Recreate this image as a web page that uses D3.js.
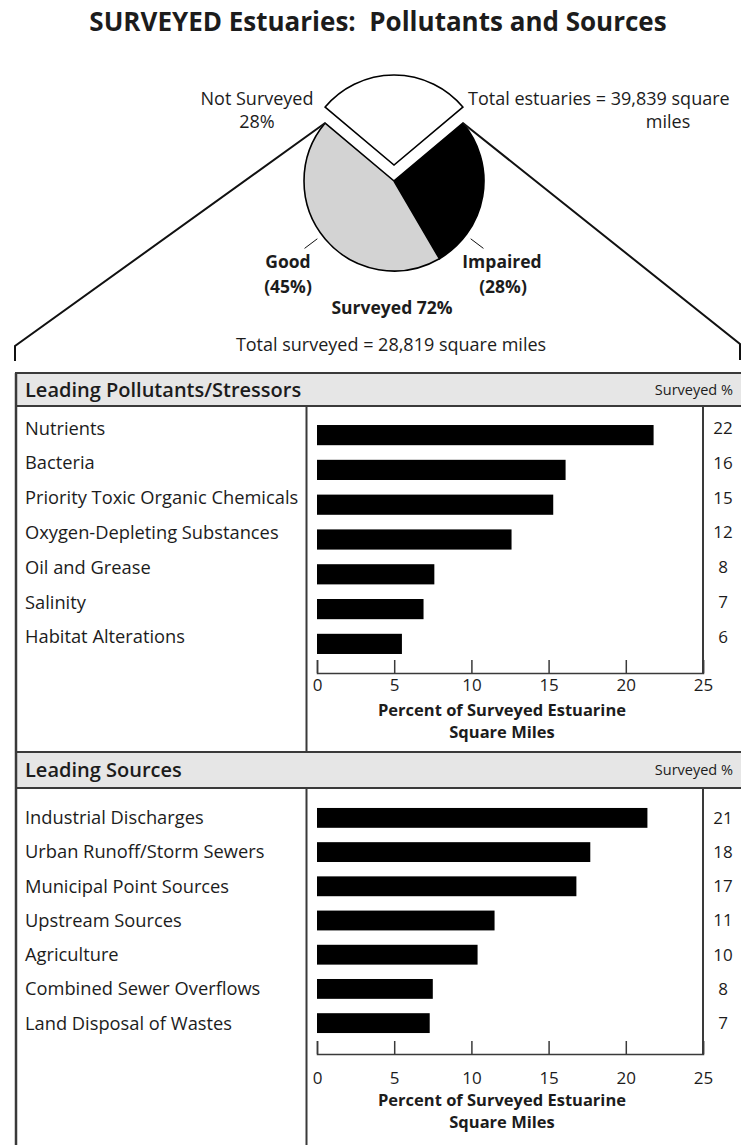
<!DOCTYPE html>
<html>
<head>
<meta charset="utf-8">
<script src="https://cdn.jsdelivr.net/npm/d3@7"></script>
<style>
  body { margin: 0; background: #fff; }
  text { font-family: "Open Sans", sans-serif; fill: #1c1c1c; }
</style>
</head>
<body>
<div id="viz"></div>
<script>
// ---- data ----
var pieNames = ["Not Surveyed", "Impaired", "Good"];
var pieValues = [28, 28, 45];

var pollutants = ["Nutrients", "Bacteria", "Priority Toxic Organic Chemicals",
  "Oxygen-Depleting Substances", "Oil and Grease", "Salinity", "Habitat Alterations"];
var pollutantValues = [21.8, 16.1, 15.3, 12.6, 7.6, 6.9, 5.5];
var pollutantLabels = ["22", "16", "15", "12", "8", "7", "6"];

var sources = ["Industrial Discharges", "Urban Runoff/Storm Sewers", "Municipal Point Sources",
  "Upstream Sources", "Agriculture", "Combined Sewer Overflows", "Land Disposal of Wastes"];
var sourceValues = [21.4, 17.7, 16.8, 11.5, 10.4, 7.5, 7.3];
var sourceLabels = ["21", "18", "17", "11", "10", "8", "7"];

var xTicks = [0, 5, 10, 15, 20, 25];

var width = 741, height = 1145;

var svg = d3.select("#viz").append("svg")
  .attr("width", width)
  .attr("height", height);

svg.append("text")
  .attr("x", 378).attr("y", 31)
  .attr("text-anchor", "middle")
  .style("white-space", "pre")
  .style("font-size", "26px")
  .style("font-weight", "bold")
  .text("SURVEYED Estuaries:  Pollutants and Sources");

// ---- pie ----
var cx = 394, cy = 181, r = 90, lift = 16;
var total = d3.sum(pieValues);
var a0 = -Math.PI * pieValues[0] / total;

var pie = d3.pie().sort(null).startAngle(a0).endAngle(a0 + 2 * Math.PI);
var arc = d3.arc().innerRadius(0).outerRadius(r);
var slices = pie(pieValues);
var pieFill = ["#fff", "#000", "#d3d3d3"];

var pg = svg.append("g").attr("transform", "translate(" + cx + "," + cy + ")");

// zoom lines from the surveyed cut down to the table
function onArc(a, rad) { return [cx + rad * Math.sin(a), cy - rad * Math.cos(a)]; }
var leftCut = onArc(slices[2].endAngle, r);
var rightCut = onArc(slices[1].startAngle, r);
svg.append("path")
  .attr("d", "M" + leftCut + "L15,346V361")
  .attr("fill", "none").attr("stroke", "#111").attr("stroke-width", 2);
svg.append("path")
  .attr("d", "M" + rightCut + "L740,344V360")
  .attr("fill", "none").attr("stroke", "#111").attr("stroke-width", 2);

pg.selectAll("path.slice")
  .data(slices)
  .join("path")
  .attr("class", "slice")
  .attr("d", arc)
  .attr("transform", function(d, i) { return i == 0 ? "translate(0," + (-lift) + ")" : null; })
  .attr("fill", function(d, i) { return pieFill[i]; })
  .attr("stroke", "#000")
  .attr("stroke-width", 1.6);

// leaders for Good / Impaired
var leaders = [127, 233];
leaders.forEach(function(deg) {
  var a = deg * Math.PI / 180;
  pg.append("line")
    .attr("x1", 96 * Math.sin(a)).attr("y1", -96 * Math.cos(a))
    .attr("x2", 112 * Math.sin(a)).attr("y2", -112 * Math.cos(a))
    .attr("stroke", "#111").attr("stroke-width", 1);
});

function label(x, y, str, opts) {
  opts = opts || {};
  return svg.append("text")
    .attr("x", x).attr("y", y)
    .attr("text-anchor", opts.anchor || "middle")
    .style("font-size", (opts.size || 18) + "px")
    .style("font-weight", opts.weight || "normal")
    .text(str);
}

label(257, 105, "Not Surveyed");
label(257, 128, pieValues[0] + "%");
label(468, 105, "Total estuaries = 39,839 square", {anchor: "start"});
label(668, 128, "miles");
label(288, 268, pieNames[2], {weight: "bold", size: 17.5});
label(288, 293, "(" + pieValues[2] + "%)", {weight: "bold", size: 17.5});
label(502, 268, pieNames[1], {weight: "bold", size: 17.5});
label(503, 293, "(" + pieValues[1] + "%)", {weight: "bold", size: 17.5});
label(392, 314, "Surveyed 72%", {weight: "bold", size: 17.5});
label(391, 351, "Total surveyed = 28,819 square miles");

// ---- table ----
var x = d3.scaleLinear().domain([0, 25]).range([317, 703]);
var colDiv = 306.5;
var lineColor = "#3a3a3a";

function section(cfg) {
  var g = svg.append("g");
  g.append("rect")
    .attr("x", 16).attr("y", cfg.top)
    .attr("width", 740).attr("height", cfg.headerH)
    .attr("fill", "#e6e6e6")
    .attr("stroke", lineColor).attr("stroke-width", 2);
  g.append("text")
    .attr("x", 25).attr("y", cfg.top + cfg.headerH / 2 + 7)
    .style("font-size", "20px").style("font-weight", 600)
    .text(cfg.title);
  g.append("text")
    .attr("x", 733).attr("y", cfg.top + cfg.headerH / 2 + 5)
    .attr("text-anchor", "end")
    .style("font-size", "14.5px")
    .text("Surveyed %");

  var bodyTop = cfg.top + cfg.headerH;
  g.append("line")
    .attr("x1", colDiv).attr("x2", colDiv)
    .attr("y1", bodyTop).attr("y2", cfg.bottom)
    .attr("stroke", lineColor).attr("stroke-width", 2);
  g.append("line")
    .attr("x1", x(25)).attr("x2", x(25))
    .attr("y1", bodyTop).attr("y2", cfg.axisY)
    .attr("stroke", lineColor).attr("stroke-width", 2);

  var y = d3.scaleBand().domain(cfg.cats).range(cfg.band).padding(0.42);

  g.selectAll("rect.bar")
    .data(cfg.vals)
    .join("rect")
    .attr("class", "bar")
    .attr("x", x(0))
    .attr("y", function(d, i) { return y(cfg.cats[i]); })
    .attr("width", function(d) { return x(d) - x(0); })
    .attr("height", y.bandwidth())
    .attr("fill", "#000");

  g.selectAll("text.cat")
    .data(cfg.cats)
    .join("text")
    .attr("class", "cat")
    .attr("x", 25)
    .attr("y", function(d) { return y(d) + y.bandwidth() / 2 + cfg.shift; })
    .attr("dy", "0.35em")
    .style("font-size", "18.3px")
    .text(function(d) { return d; });

  g.selectAll("text.val")
    .data(cfg.labels)
    .join("text")
    .attr("class", "val")
    .attr("x", 723)
    .attr("y", function(d, i) { return y(cfg.cats[i]) + y.bandwidth() / 2 + cfg.shift; })
    .attr("dy", "0.35em")
    .attr("text-anchor", "middle")
    .style("font-size", "17px")
    .text(function(d) { return d; });

  var ax = g.append("g")
    .attr("transform", "translate(0," + cfg.axisY + ")")
    .call(d3.axisBottom(x).tickValues(xTicks).tickSize(-13).tickPadding(cfg.tickPad));
  ax.selectAll("path, line").attr("stroke", lineColor).attr("stroke-width", 1.5);
  ax.selectAll("text")
    .style("font-family", "'Open Sans', sans-serif")
    .style("font-size", "17px")
    .attr("fill", "#1c1c1c");

  g.append("text")
    .attr("x", 502).attr("y", cfg.titleY)
    .attr("text-anchor", "middle")
    .style("font-size", "16.5px").style("font-weight", "bold")
    .text("Percent of Surveyed Estuarine");
  g.append("text")
    .attr("x", 502).attr("y", cfg.titleY + 22)
    .attr("text-anchor", "middle")
    .style("font-size", "16.5px").style("font-weight", "bold")
    .text("Square Miles");
}

section({
  top: 373, headerH: 33, bottom: 752,
  title: "Leading Pollutants/Stressors",
  cats: pollutants, vals: pollutantValues, labels: pollutantLabels,
  band: [410.4, 668.6], shift: -7,
  axisY: 673, tickPad: 6, titleY: 716
});

section({
  top: 752, headerH: 36, bottom: 1150,
  title: "Leading Sources",
  cats: sources, vals: sourceValues, labels: sourceLabels,
  band: [793.6, 1047.4], shift: 0,
  axisY: 1054, tickPad: 18, titleY: 1106
});

// outer left border
svg.append("line")
  .attr("x1", 16).attr("x2", 16)
  .attr("y1", 373).attr("y2", height)
  .attr("stroke", lineColor).attr("stroke-width", 2.5);
</script>
</body>
</html>
